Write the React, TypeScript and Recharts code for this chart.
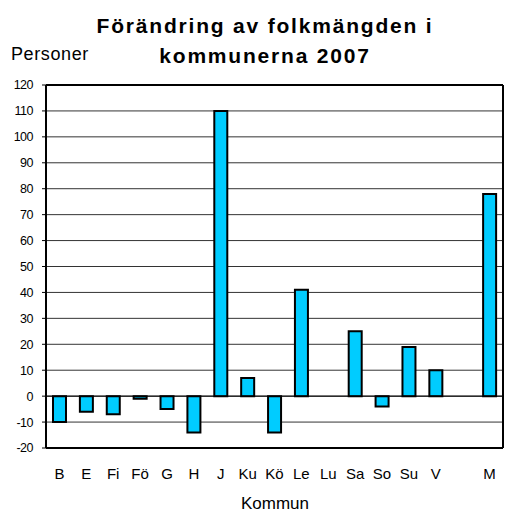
import { BarChart, Bar, XAxis, YAxis, CartesianGrid, ReferenceLine } from 'recharts';

// Kommunernas förändring 2007 (personer)
const KOMMUNER = ['B', 'E', 'Fi', 'Fö', 'G', 'H', 'J', 'Ku', 'Kö', 'Le', 'Lu', 'Sa', 'So', 'Su', 'V', '', 'M'];
const FORANDRING: (number | null)[] = [-10, -6, -7, -1, -5, -14, 110, 7, -14, 41, 0, 25, -4, 19, 10, null, 78];
const Y_TICKS = [-20, -10, 0, 10, 20, 30, 40, 50, 60, 70, 80, 90, 100, 110, 120];

const FONT = '"Liberation Sans", Arial, sans-serif';
const BAR_FILL = '#00CCFF';

const data = KOMMUNER.map((name, i) => ({ name, value: FORANDRING[i] }));

export default function App() {
  return (
    <div style={{ position: 'absolute', left: 0, top: 0, width: 505, height: 514, fontFamily: FONT, background: '#fff' }}>
      {/* Title */}
      <div
        style={{
          position: 'absolute',
          left: 0,
          top: 11,
          width: 530,
          textAlign: 'center',
          fontWeight: 'bold',
          fontSize: 21,
          lineHeight: '30px',
          letterSpacing: 1.8,
        }}
      >
        Förändring av folkmängden i
        <br />
        kommunerna 2007
      </div>

      {/* Y axis label */}
      <div style={{ position: 'absolute', left: 11, top: 44, fontSize: 18, letterSpacing: 0.6 }}>Personer</div>

      <BarChart
        width={505}
        height={514}
        data={data}
        margin={{ top: 85, right: 0, bottom: 36, left: 6 }}
        barCategoryGap={0}
      >
        <CartesianGrid vertical={false} stroke="#333" strokeWidth={1} yAxisId="left" />
        <XAxis
          dataKey="name"
          height={30}
          tickLine={false}
          tickSize={10}
          tickMargin={10}
          axisLine={{ stroke: '#000', strokeWidth: 2 }}
          tick={{ fontSize: 15, fill: '#000', fontFamily: FONT }}
          interval={0}
        />
        <YAxis
          yAxisId="left"
          domain={[-20, 120]}
          ticks={Y_TICKS}
          interval={0}
          width={40}
          tickSize={4}
          tickMargin={9}
          tickLine={{ stroke: '#000' }}
          axisLine={{ stroke: '#000', strokeWidth: 2 }}
          tick={{ fontSize: 12.5, fill: '#000', fontFamily: FONT, letterSpacing: -0.5 }}
        />
        <YAxis
          yAxisId="right"
          orientation="right"
          domain={[-20, 120]}
          width={2}
          tick={false}
          tickLine={false}
          axisLine={{ stroke: '#000', strokeWidth: 2 }}
        />
        <ReferenceLine yAxisId="left" y={120} stroke="#000" strokeWidth={2} />
        <ReferenceLine yAxisId="left" y={0} stroke="#000" strokeWidth={1} />
        <Bar
          yAxisId="left"
          dataKey="value"
          fill={BAR_FILL}
          stroke="#000"
          strokeWidth={2}
          barSize={13}
          isAnimationActive={false}
        />
      </BarChart>

      {/* X axis label */}
      <div style={{ position: 'absolute', left: 0, top: 494, width: 550, textAlign: 'center', fontSize: 17 }}>Kommun</div>
    </div>
  );
}
